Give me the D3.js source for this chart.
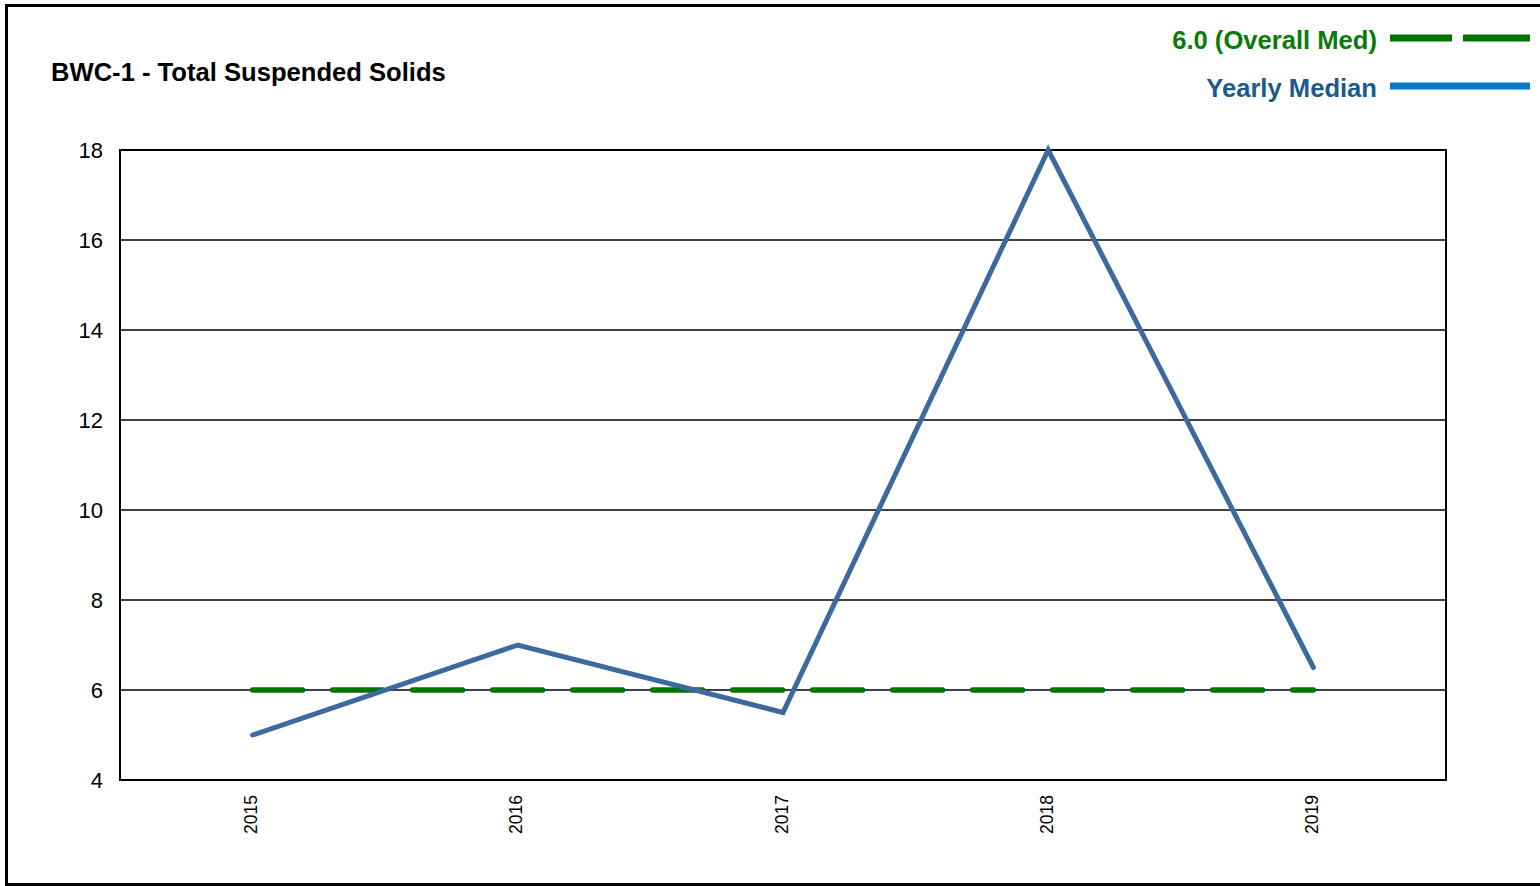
<!DOCTYPE html>
<html><head><meta charset="utf-8">
<script src="https://cdn.jsdelivr.net/npm/d3@7"></script>
<style>html,body{margin:0;padding:0;background:#fff;}svg{display:block;font-family:"Liberation Sans",Arial,sans-serif;}</style>
</head><body>
<script>
const years = ["2015","2016","2017","2018","2019"];
const yearlyMedian = [5.0, 7.0, 5.5, 18.0, 6.5];
const overallMedian = 6.0;
const yTicks = [4,6,8,10,12,14,16,18];
const title = "BWC-1 - Total Suspended Solids";
const legendLabels = ["6.0 (Overall Med)", "Yearly Median"];

const W = 1540, H = 886;
const svg = d3.select("body").append("svg").attr("width", W).attr("height", H);

// outer frame
svg.append("rect").attr("x",6.5).attr("y",5.5).attr("width",1545).attr("height",879)
  .attr("fill","none").attr("stroke","#000").attr("stroke-width",3);

const L = 120, R = 1446, T = 150, B = 780;
const x = d3.scalePoint().domain(years).range([L, R]).padding(0.5);
const y = d3.scaleLinear().domain([4,18]).range([B, T]);

// gridlines
svg.append("g").selectAll("line").data(yTicks).join("line")
  .attr("x1",L).attr("x2",R).attr("y1",d=>y(d)).attr("y2",d=>y(d))
  .attr("stroke","#000").attr("stroke-width",1.3);

// y axis labels
const yAxis = svg.append("g").attr("transform",`translate(${L},0)`)
  .call(d3.axisLeft(y).tickValues(yTicks).tickSize(0).tickPadding(17).tickFormat(d3.format("d")));
yAxis.select(".domain").remove();
yAxis.selectAll("text").attr("font-size",22).attr("fill","#000").attr("font-family","Liberation Sans, Arial, sans-serif");

// x axis labels
const xAxis = svg.append("g").attr("transform",`translate(0,${B})`)
  .call(d3.axisBottom(x).tickSize(0));
xAxis.select(".domain").remove();
xAxis.selectAll("text")
  .attr("font-size",17.5).attr("fill","#000").attr("font-family","Liberation Sans, Arial, sans-serif")
  .attr("text-anchor","end").attr("dy","0.35em")
  .attr("transform","translate(-2,15) rotate(-90)").attr("x",0).attr("y",0);

// plot border
svg.append("rect").attr("x",L).attr("y",T).attr("width",R-L).attr("height",B-T)
  .attr("fill","none").attr("stroke","#000").attr("stroke-width",2);

// overall median dashed line
svg.append("line")
  .attr("x1",x(years[0])).attr("x2",x(years[years.length-1]))
  .attr("y1",y(overallMedian)).attr("y2",y(overallMedian))
  .attr("stroke","#007300").attr("stroke-width",5.5).attr("stroke-linecap","round")
  .attr("stroke-dasharray","50,30");

// yearly median line
const line = d3.line().x((d,i)=>x(years[i])).y(d=>y(d));
svg.append("path").datum(yearlyMedian).attr("d",line)
  .attr("fill","none").attr("stroke","#3c6a9e").attr("stroke-width",5)
  .attr("stroke-linejoin","miter").attr("stroke-linecap","round");

// title
svg.append("text").attr("x",51).attr("y",81).text(title)
  .attr("font-size",25.6).attr("font-weight","bold").attr("fill","#000");

// legend
svg.append("text").attr("x",1377).attr("y",49).attr("text-anchor","end").text(legendLabels[0])
  .attr("font-size",25.6).attr("font-weight","bold").attr("fill","#0a7a0a");
svg.append("text").attr("x",1377).attr("y",97).attr("text-anchor","end").text(legendLabels[1])
  .attr("font-size",25.6).attr("font-weight","bold").attr("fill","#1c5a8c");
svg.append("line").attr("x1",1390).attr("x2",1530).attr("y1",38).attr("y2",38)
  .attr("stroke","#007300").attr("stroke-width",7).attr("stroke-dasharray","62,11,67,11");
svg.append("line").attr("x1",1390).attr("x2",1530).attr("y1",86).attr("y2",86)
  .attr("stroke","#0a78c2").attr("stroke-width",7);
</script>
</body></html>
